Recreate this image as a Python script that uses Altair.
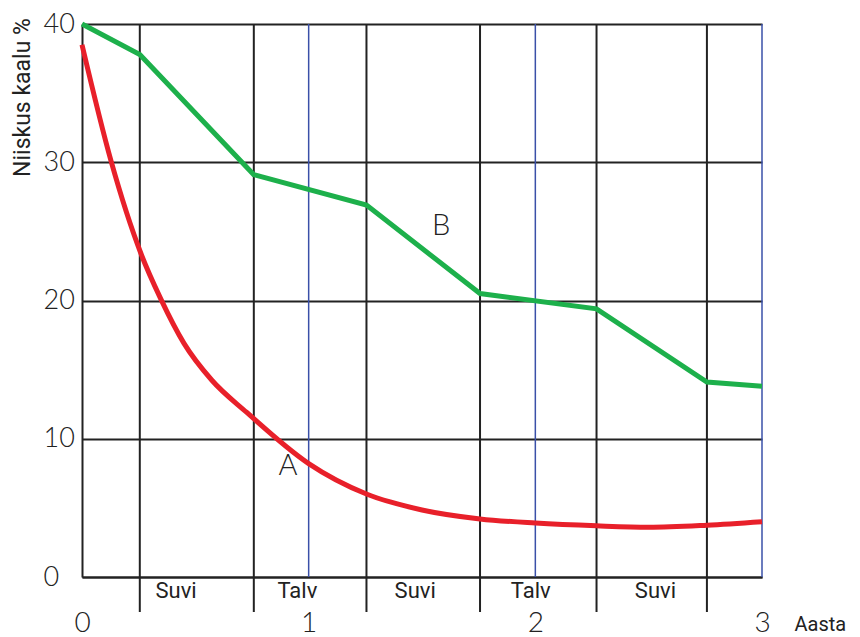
import altair as alt
import pandas as pd

# --- data ---
green_x = [0, 0.255, 0.758, 1.255, 1.756, 2.27, 2.757, 3.0]
green_y = [40, 37.8, 29.1, 26.9, 20.5, 19.4, 14.1, 13.8]

red_x = [0, 0.128, 0.26, 0.348, 0.45, 0.572, 0.727, 1.0, 1.255, 1.5, 1.756, 2.0, 2.27, 2.5, 2.757, 3.0]
red_y = [38.5, 30.1, 23.4, 20.1, 16.9, 14.25, 11.9, 8.2, 6.0, 4.85, 4.2, 3.9, 3.7, 3.6, 3.75, 4.0]

season_bounds = [0.255, 0.758, 1.255, 1.756, 2.27, 2.757]
season_names = ["Suvi", "Talv", "Suvi", "Talv", "Suvi"]
season_centers = [0.415, 0.95, 1.47, 1.98, 2.53]
year_lines = [1, 2, 3]
x_ticks = [0, 1, 2, 3]
y_ticks = [0, 10, 20, 30, 40]

curve_labels = ["A", "B"]
curve_label_x = [0.909, 1.584]
curve_label_y = [8.0, 25.4]

W, H = 680, 553
LABEL_FONT = "Lato"

xs = alt.Scale(domain=[0, 3], nice=False, zero=False)
ys = alt.Scale(domain=[0, 40], nice=False)

green = pd.DataFrame({"x": green_x, "y": green_y})
red = pd.DataFrame({"x": red_x, "y": red_y})
bounds = pd.DataFrame({"x": season_bounds})
seasons = pd.DataFrame({"x": season_centers, "name": season_names})
years = pd.DataFrame({"x": year_lines})
labels = pd.DataFrame({"x": curve_label_x, "y": curve_label_y, "t": curve_labels})

base_axes = alt.Chart(green).mark_point(opacity=0).encode(
    x=alt.X("x:Q", scale=xs,
            axis=alt.Axis(values=x_ticks, format="d", title="Aasta", grid=False, ticks=False,
                          tickSize=0, domain=True, domainColor="#222222", domainWidth=2,
                          labelFont=LABEL_FONT, labelFontSize=28, labelFontWeight=300,
                          labelColor="#222222", labelFlush=False, labelPadding=46,
                          labelBaseline="middle", labelOverlap=False,
                          titleFont="Roboto", titleFontSize=20, titleFontWeight="normal",
                          titleColor="#222222", titleAlign="left", titleBaseline="middle",
                          titleX=712, titleY=47)),
    y=alt.Y("y:Q", scale=ys,
            axis=alt.Axis(values=y_ticks, title="Niiskus kaalu %", grid=True,
                          gridColor="#222222", gridWidth=1.8, gridOpacity=1,
                          ticks=False, tickSize=0, domain=True, domainColor="#222222",
                          domainWidth=2, labelFont=LABEL_FONT, labelFontSize=27,
                          labelFontWeight=300, labelColor="#222222", labelAlign="left",
                          labelPadding=39, labelBaseline="middle", labelFlush=False,
                          labelOverlap=False,
                          titleFont="Roboto", titleFontSize=23, titleFontWeight="normal",
                          titleColor="#222222", titleAngle=270, titleAlign="center",
                          titleBaseline="middle", titleX=-60, titleY=73)),
)

bound_rules = alt.Chart(bounds).mark_rule(color="#222222", strokeWidth=2).encode(
    x=alt.X("x:Q", scale=xs), y=alt.value(0), y2=alt.value(H + 35)
)

year_rules = alt.Chart(years).mark_rule(color="#3a50a8", strokeWidth=1.5).encode(
    x=alt.X("x:Q", scale=xs), y=alt.value(0), y2=alt.value(H)
)

season_text = alt.Chart(seasons).mark_text(
    font="Roboto", fontSize=22, color="#222222", align="center", baseline="middle"
).encode(x=alt.X("x:Q", scale=xs), y=alt.value(H + 14), text="name:N")

red_line = alt.Chart(red).mark_line(color="#e8202a", strokeWidth=5, interpolate="monotone").encode(
    x=alt.X("x:Q", scale=xs), y=alt.Y("y:Q", scale=ys)
)
green_line = alt.Chart(green).mark_line(color="#1db04b", strokeWidth=5).encode(
    x=alt.X("x:Q", scale=xs), y=alt.Y("y:Q", scale=ys)
)

label_text = alt.Chart(labels).mark_text(
    font=LABEL_FONT, fontSize=29, fontWeight=300, color="#222222", align="center", baseline="middle"
).encode(x=alt.X("x:Q", scale=xs), y=alt.Y("y:Q", scale=ys), text="t:N")

chart = alt.layer(
    base_axes, bound_rules, year_rules, season_text, green_line, red_line, label_text
).properties(
    width=W, height=H,
    autosize=alt.AutoSizeParams(type="none"),
    padding={"left": 74, "top": 16, "right": 90, "bottom": 60},
).configure_view(stroke=None)

chart.save("out.html", embed_options={"renderer": "svg", "actions": False})
